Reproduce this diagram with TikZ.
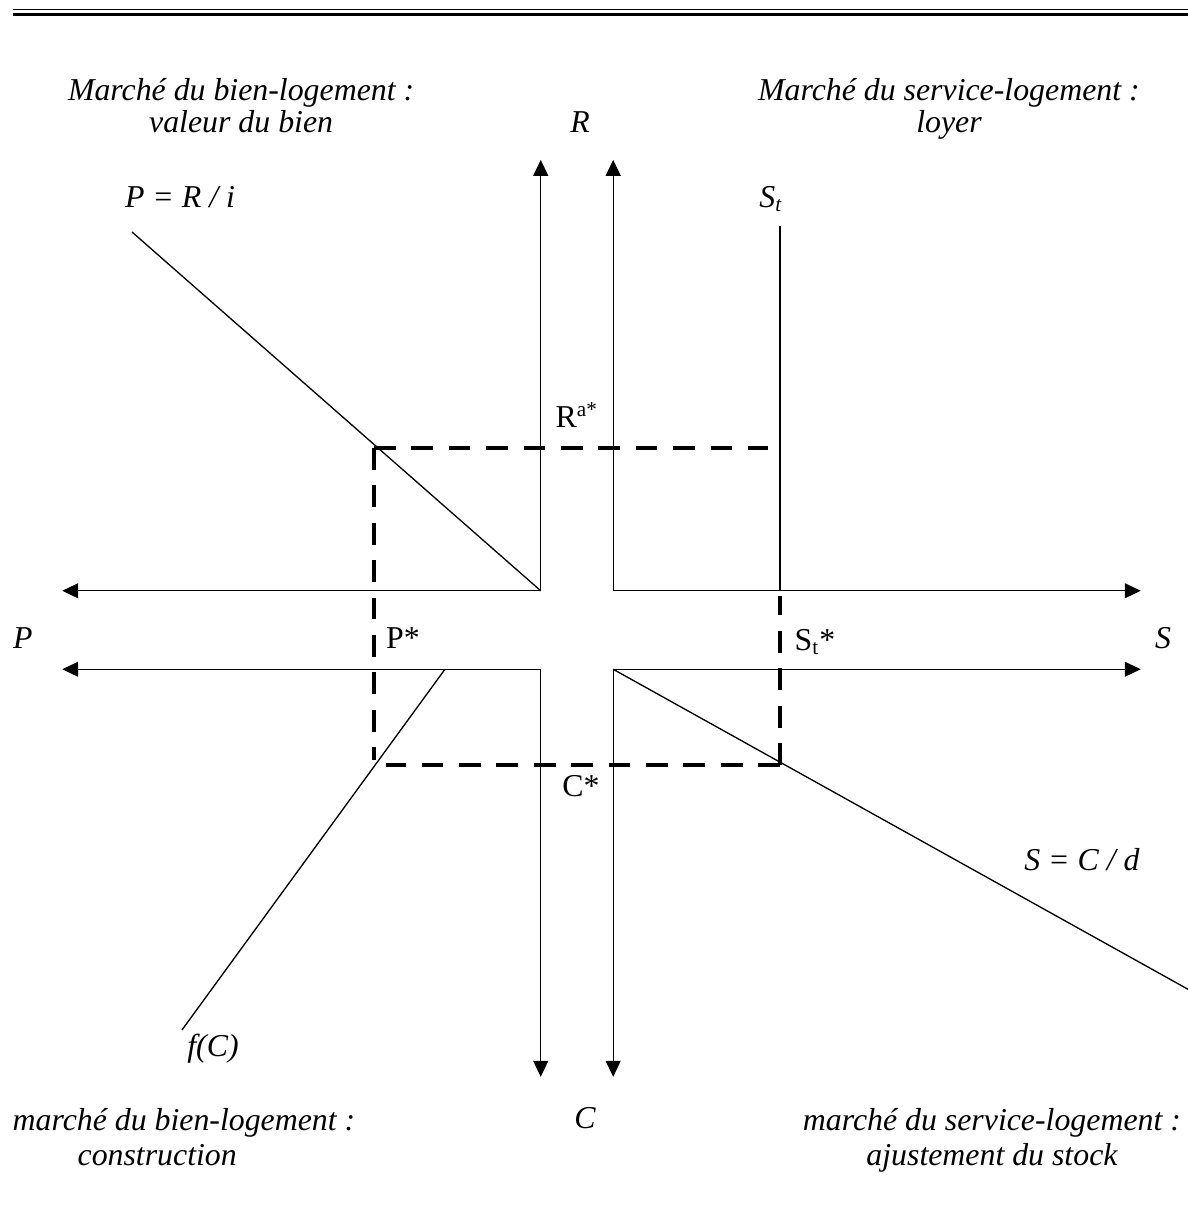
\documentclass[tikz,border=0pt]{standalone}
\usepackage{fontspec}
\setmainfont{Liberation Serif}
\usetikzlibrary{arrows.meta,positioning,calc}

\begin{document}
\begin{tikzpicture}[
  axis/.style={line width=0.5pt, {Triangle[length=6pt,width=5.6pt]}-{Triangle[length=6pt,width=5.6pt]}},
  curve/.style={line width=0.5pt},
  guide/.style={line width=1.7pt, dash pattern=on 8.2pt off 5.9pt},
  title/.style={align=center, font=\itshape\fontsize{12}{12.3}\selectfont, inner sep=0pt, anchor=base},
  subtitle/.style={title, font=\itshape\fontsize{12}{13.2}\selectfont},
  eqval/.style={font=\fontsize{12}{14}\selectfont, inner sep=0pt, anchor=base},
  var/.style={font=\itshape\fontsize{12}{14}\selectfont, inner sep=0pt, anchor=base}
]

\useasboundingbox (-7.645,-7.897) rectangle (8.096,8.348);

% double rule at the top of the page
\draw[line width=0.5pt] (-7.473,8.219) -- (8.096,8.219);
\draw[line width=0.9pt] (-7.473,8.155) -- (8.096,8.155);

% origins of the four quadrants
\coordinate (ul) at (-0.48,0.52);
\coordinate (ur) at (0.48,0.52);
\coordinate (ll) at (-0.48,-0.52);
\coordinate (lr) at (0.48,-0.52);

% axes
\draw[axis] (-0.48,6.23) -- (ul) -- (-6.82,0.52);
\draw[axis] (0.48,6.23) -- (ur) -- (7.47,0.52);
\draw[axis] (-6.82,-0.52) -- (ll) -- (-0.48,-5.92);
\draw[axis] (7.47,-0.52) -- (lr) -- (0.48,-5.92);

% curves
\coordinate (pri) at (-5.896,5.274);
\coordinate (sttop) at (2.69,5.353);
\coordinate (stbase) at (2.69,0.52);
\coordinate (fcstart) at (-1.749,-0.52);
\coordinate (fcend) at (-5.234,-5.30);
\coordinate (scdend) at (8.096,-4.76);

\draw[curve] (pri) -- (ul);
\draw[curve] (sttop) -- (stbase);
\draw[curve] (fcstart) -- (fcend);
\draw[curve] (lr) -- (scdend);

% equilibrium guides
\draw[guide] (-2.69,2.412) -- (2.531,2.412);
\draw[guide] (-2.69,2.412) -- (-2.69,-1.723);
\draw[guide] (2.69,-1.789) -- (-2.531,-1.789);
\draw[guide] (2.69,-1.789) -- (2.69,0.45);

% quadrant titles (base = last line)
\node[title] (tbien) at (-4.45,6.589) {Marché du bien-logement :\\valeur du bien};
\node[title] (tservice) at (4.929,6.589) {Marché du service-logement :\\loyer};
\node[subtitle, align=left] (bbien) at (-5.207,-7.089) {marché du bien-logement :\\\hspace*{24.5pt}construction};
\node[subtitle] (bservice) at (5.499,-7.089) {marché du service-logement :\\ajustement du stock};

% axis names
\node[var] (rname) at (0.04,6.589) {R};
\node[var] (pname) at (-7.341,-0.239) {P};
\node[var] (sname) at (7.765,-0.239) {S};
\node[var] (cname) at (0.106,-6.599) {C};

% curve names
\node[var] (prilab) at (-5.26,5.605) {P = R / i};
\node[var] (stlab) at (2.571,5.605) {S\textsubscript{t}};
\node[var] (fclab) at (-4.823,-5.645) {f(C)};
\node[var] (scdlab) at (6.691,-3.18) {S = C / d};

% equilibrium values
\node[eqval] (rstar) at (0,2.677) {R\textsuperscript{a*}};
\node[eqval] (pstar) at (-2.306,-0.239) {P*};
\node[eqval] (ststar) at (3.154,-0.265) {S\textsubscript{t}*};
\node[eqval] (cstar) at (0.053,-2.2) {C*};

\end{tikzpicture}
\end{document}
